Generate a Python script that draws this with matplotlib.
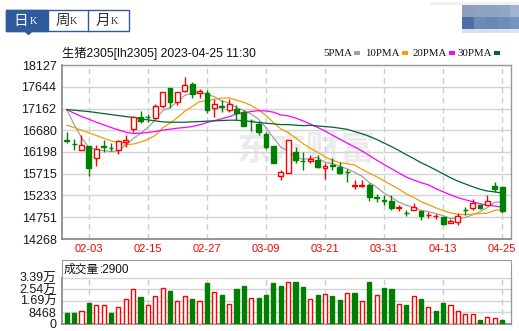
import matplotlib
matplotlib.use("Agg")
import matplotlib.pyplot as plt
from matplotlib.patches import Rectangle, Polygon
from matplotlib.transforms import ScaledTranslation

# 生猪2305 日K (01-31 ~ 04-25)
opens = [16462, 16385, 16239, 16335, 16062, 16325, 16288, 16246, 16423, 16711,
         16984, 16980, 16962, 17227, 17625, 17301, 17552, 17714, 17500, 17500,
         17183, 17227, 17124, 17154, 17080, 16892, 16814, 16593, 16320, 15671,
         15730, 16195, 16008, 16003, 16025, 15833, 15904, 15863, 15756, 15453,
         15450, 15457, 15196, 15122, 15118, 14966, 14849, 14904, 14882, 14790,
         14768, 14749, 14631, 14639, 14922, 14963, 15015, 15022, 15443, 15413]
highs = [16652, 16490, 16578, 16335, 16357, 16468, 16394, 16468, 16564, 17006,
         17109, 17043, 17257, 17530, 17625, 17537, 17854, 17758, 17596, 17574,
         17367, 17345, 17375, 17242, 17131, 16932, 16888, 16652, 16320, 15800,
         16468, 16298, 16195, 16136, 16136, 15951, 16062, 15966, 15826, 15582,
         15582, 15509, 15265, 15251, 15236, 15030, 14919, 15066, 14897, 14867,
         14823, 14764, 14720, 14845, 14985, 15155, 15030, 15236, 15524, 15413]
lows = [16394, 16239, 16239, 15656, 15878, 16195, 16210, 16151, 16298, 16637,
        16836, 16858, 16932, 17168, 17183, 17242, 17522, 17389, 17404, 17058,
        16969, 17094, 17080, 16910, 16777, 16674, 16578, 16268, 15951, 15582,
        15730, 15951, 15796, 15951, 15841, 15605, 15804, 15708, 15531, 15376,
        15413, 15118, 15089, 15030, 14919, 14897, 14771, 14904, 14698, 14734,
        14720, 14572, 14617, 14587, 14794, 14919, 14934, 15015, 15310, 14845]
closes = [16450, 16375, 16342, 15841, 16261, 16315, 16280, 16431, 16468, 16969,
          16888, 16972, 17227, 17530, 17301, 17530, 17685, 17493, 17552, 17124,
          17272, 17205, 17264, 17058, 16777, 16884, 16652, 16298, 15951, 15745,
          16453, 16025, 16000, 16047, 15856, 15892, 15896, 15730, 15748, 15461,
          15472, 15199, 15188, 15114, 14956, 14975, 14841, 14978, 14771, 14798,
          14775, 14602, 14668, 14771, 14915, 15066, 14956, 15118, 15376, 14897]

ma5 = [17139, 16807, 16519, 16298, 16254, 16227, 16208, 16226, 16351, 16493,
       16607, 16746, 16905, 17117, 17184, 17312, 17455, 17508, 17512, 17477,
       17425, 17329, 17283, 17185, 17115, 17038, 16927, 16734, 16512, 16306,
       16220, 16094, 16035, 16054, 16076, 15964, 15938, 15884, 15824, 15745,
       15661, 15522, 15414, 15287, 15186, 15086, 15015, 14973, 14904, 14873,
       14833, 14785, 14723, 14723, 14746, 14804, 14875, 14965, 15086, 15083]
ma10 = [16792, 16740, 16681, 16622, 16564, 16504, 16446, 16401, 16364, 16373,
        16417, 16477, 16565, 16734, 16838, 16960, 17100, 17206, 17315, 17330,
        17369, 17392, 17396, 17348, 17296, 17231, 17128, 17009, 16849, 16711,
        16629, 16511, 16384, 16283, 16191, 16092, 16016, 15960, 15939, 15911,
        15813, 15730, 15649, 15556, 15466, 15374, 15268, 15193, 15096, 15029,
        14960, 14900, 14848, 14814, 14809, 14819, 14830, 14844, 14905, 14914]
ma20 = [17139, 17058, 16984, 16925, 16858, 16800, 16740, 16689, 16637, 16608,
        16615, 16630, 16652, 16681, 16704, 16726, 16740, 16763, 16800, 16852,
        16893, 16934, 16980, 17041, 17067, 17096, 17114, 17107, 17082, 17020,
        16999, 16951, 16890, 16816, 16744, 16662, 16572, 16484, 16394, 16311,
        16221, 16120, 16017, 15919, 15828, 15733, 15642, 15576, 15517, 15470,
        15386, 15315, 15248, 15185, 15138, 15096, 15049, 15019, 15000, 14972]
ma30 = [17139, 17124, 17109, 17094, 17072, 17050, 17028, 17006, 16984, 16962,
        16932, 16910, 16888, 16866, 16858, 16858, 16858, 16866, 16873, 16881,
        16888, 16895, 16903, 16903, 16888, 16873, 16851, 16836, 16822, 16805,
        16805, 16793, 16782, 16789, 16775, 16761, 16748, 16725, 16701, 16651,
        16603, 16544, 16476, 16396, 16318, 16232, 16138, 16054, 15961, 15884,
        15800, 15714, 15627, 15551, 15489, 15428, 15372, 15332, 15313, 15285]

volumes = [8340, 8340, 9568, 14963, 13984, 13984, 8340, 12512, 18400, 25760,
           19872, 13984, 20608, 26496, 24288, 16928, 20608, 18400, 16928, 29683,
           23552, 20851, 14720, 25269, 27477, 19136, 18643, 21344, 30176, 27968,
           30667, 30912, 27232, 18155, 21344, 22080, 20608, 17664, 22571, 22816,
           16928, 30912, 21099, 26496, 25760, 14720, 13984, 20363, 18400, 12267,
           9568, 15456, 13984, 9323, 7117, 7117, 2944, 4907, 4416, 2900]
# 1 = 收盘高于前收 (红), 0 = 低于前收 (绿)
vol_up = [0, 0, 1, 0, 1, 1, 0, 1, 1, 1, 0, 1, 1, 1, 0, 1, 1, 0, 1, 0,
          1, 0, 1, 0, 0, 1, 0, 0, 0, 0, 1, 0, 0, 1, 0, 1, 0, 0, 1, 0,
          1, 0, 1, 0, 0, 1, 0, 1, 0, 1, 0, 0, 1, 1, 1, 1, 0, 1, 1, 0]

date_idx = [3, 11, 19, 27, 35, 43, 51, 59]
date_labels = ["02-03", "02-15", "02-27", "03-09", "03-21", "03-31", "04-13", "04-25"]
price_ticks = [14268, 14751, 15233, 15715, 16198, 16680, 17162, 17644, 18127]
vol_ticks = [0, 8468, 16936, 25404, 33872]
vol_labels = ["0", "8468", "1.69万", "2.54万", "3.39万"]
ma_names = ["5PMA", "10PMA", "20PMA", "30PMA"]

RED = "#ff0000"
GREEN = "#008000"
BLUE = "#2f5a9c"
GRID = "#d4d4d4"
FRAME = "#999999"
MA_COLORS = ["#a0a0a0", "#f0a000", "#ff00ff", "#006633"]
FONT = ["Liberation Sans", "Noto Sans CJK SC"]
CJK = ["Noto Sans CJK SC", "DejaVu Sans"]

W, H = 519, 331
fig = plt.figure(figsize=(W / 100, H / 100), dpi=100)


def box(l, t, r, b):
    # 像素坐标 -> figure 坐标
    return [l / W, 1 - b / H, (r - l) / W, (b - t) / H]


# 顶部: 周期切换 / 标题 / 均线图例
ov = fig.add_axes([0, 0, 1, 1])
ov.set_xlim(0, W)
ov.set_ylim(H, 0)
ov.axis("off")

ov.add_patch(Rectangle((6, 9.5), 123, 21, facecolor="white", edgecolor=BLUE, lw=1))
ov.add_patch(Rectangle((6, 9.5), 41.7, 21, facecolor=BLUE, edgecolor=BLUE, lw=1))
ov.plot([88.3, 88.3], [9.5, 30.5], color=BLUE, lw=1)
ov.add_patch(Polygon([(24.5, 30.5), (32.5, 30.5), (28.5, 34.5)], color=BLUE))
for cx, kx, ch, col in [(21, 33, "日", "white"), (63, 73.5, "周", "#333333"),
                        (103, 114.5, "月", "#333333")]:
    ov.text(cx, 20.5, ch, color=col, fontsize=10.5, family=CJK, ha="center", va="center")
    ov.text(kx, 21, "K", color=col, fontsize=7.5, family="Liberation Serif",
            ha="center", va="center")

# 右上角 logo (模糊)
logo_cols = [(462, 474), (474, 486), (486, 498), (498, 510), (510, 519)]
logo_rows = [(5, 17, ["#8c9fc1", "#8fa2c3", "#8ea2c4", "#91a6c6", "#a2b4d0"]),
             (17, 29, ["#4b6ea6", "#6d8bb8", "#6887b5", "#6e8cb8", "#7493be"]),
             (29, 33, ["#d6dfeb", "#d6dfeb", "#d8e0ec", "#d9e1ec", "#dde4ee"])]
for y0, y1, cols in logo_rows:
    for (x0, x1), c in zip(logo_cols, cols):
        ov.add_patch(Rectangle((x0, y0), x1 - x0, y1 - y0, facecolor=c, edgecolor="none"))
ov.add_patch(Rectangle((430, 1.5), 89, 3.5, facecolor="#f1f1f1", edgecolor="none"))

ov.text(62, 53, "生猪2305[lh2305] 2023-04-25 11:30", fontsize=8.8, family=FONT,
        ha="left", va="center", color="#111111")
for name, sx, c in zip(ma_names, [354, 402, 449, 494], MA_COLORS):
    ov.text(sx - 2, 53, name, fontsize=7.8, family="Liberation Serif",
            ha="right", va="center", color="#111111")
    ov.add_patch(Rectangle((sx, 51), 6, 3.5, facecolor=c, edgecolor="none"))

# 主图: K线 + 均线
ax = fig.add_axes(box(62, 65, 511, 239))
x = list(range(len(closes)))
ax.set_xlim(-0.64, 60.2)
ax.set_ylim(price_ticks[0], price_ticks[-1])

ax.text(0.545, 0.52, "东方财富", transform=ax.transAxes, fontsize=25, family=CJK,
        fontweight="bold", color="#ebebeb", ha="center", va="center", zorder=0.5)

for i in x:
    o, h, l, c = opens[i], highs[i], lows[i], closes[i]
    up = c >= o
    col = RED if up else GREEN
    top, bot = max(o, c), min(o, c)
    ax.vlines(i, top, h, color=col, lw=1, zorder=3)
    ax.vlines(i, l, bot, color=col, lw=1, zorder=3)
    ax.bar(i, top - bot, bottom=bot, width=0.66, color="white" if up else GREEN,
           edgecolor=col, lw=1, zorder=4)

for ma, c in zip([ma5, ma10, ma20, ma30], MA_COLORS):
    ax.plot(x, ma, color=c, lw=0.9, zorder=2)

ax.set_yticks(price_ticks)
ax.set_yticklabels([str(p) for p in price_ticks], family=FONT, fontsize=9, color="#1a1a1a")
ax.set_xticks(date_idx)
ax.set_xticklabels(date_labels, family=FONT, fontsize=8, color=RED)
ax.tick_params(axis="both", length=0)
ax.tick_params(axis="y", pad=4)
ax.tick_params(axis="x", pad=3.5)
ax.grid(axis="y", color=GRID, lw=1, zorder=0)
ax.grid(axis="x", color="#cccccc", lw=1, ls=(0, (4, 3)), zorder=0)
ax.set_axisbelow(True)
for side, sp in ax.spines.items():
    sp.set_color("#8c8c8c" if side in ("left", "bottom") else FRAME)
    sp.set_linewidth(1.3 if side in ("left", "bottom") else 1)

# 成交量标题栏
hd = fig.add_axes(box(62, 260, 511, 277.5))
hd.set_xticks([])
hd.set_yticks([])
for sp in hd.spines.values():
    sp.set_color(FRAME)
hd.text(0.004, 0.45, "成交量", transform=hd.transAxes, fontsize=8.5, family=CJK,
        ha="left", va="center", color="#111111")
hd.text(0.085, 0.45, ":%d" % volumes[-1], transform=hd.transAxes, fontsize=8.5,
        family=FONT, ha="left", va="center", color="#111111")

# 成交量柱
vx = fig.add_axes(box(62, 277.5, 511, 324))
vx.set_xlim(-0.64, 60.2)
vx.set_ylim(vol_ticks[0], vol_ticks[-1])
for i in x:
    if vol_up[i]:
        vx.bar(i, volumes[i], width=0.56, color="white", edgecolor=RED, lw=1, zorder=3)
    else:
        vx.bar(i, volumes[i], width=0.56, color=GREEN, edgecolor=GREEN, lw=1, zorder=3)
vx.set_yticks(vol_ticks)
vx.set_yticklabels(vol_labels, family=FONT, fontsize=9, color="#1a1a1a")
for lbl, dy in zip(vx.get_yticklabels(), [2, 1.5, 3, 5.5, 2.5]):
    lbl.set_transform(lbl.get_transform() + ScaledTranslation(0, dy / 100, fig.dpi_scale_trans))
vx.set_xticks(date_idx)
vx.set_xticklabels([])
vx.tick_params(axis="both", length=0, pad=4)
vx.grid(axis="y", color=GRID, lw=1, zorder=0)
vx.grid(axis="x", color="#cccccc", lw=1, ls=(0, (4, 3)), zorder=0)
vx.set_axisbelow(True)
for side, sp in vx.spines.items():
    sp.set_color("#8c8c8c" if side in ("left", "bottom") else FRAME)
    sp.set_linewidth(1.3 if side in ("left", "bottom") else 1)
vx.spines["top"].set_visible(False)

fig.savefig("out.png", dpi=100)
